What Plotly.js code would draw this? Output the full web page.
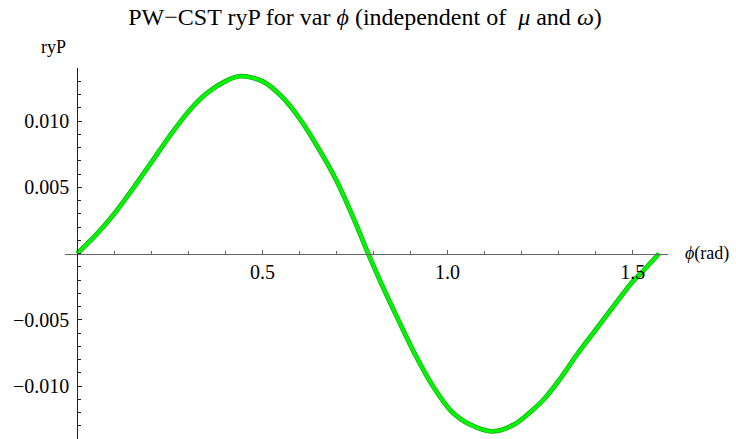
<!DOCTYPE html>
<html>
<head>
<meta charset="utf-8">
<script src="https://cdn.plot.ly/plotly-3.0.1.min.js"></script>
<style>
  html, body { margin: 0; padding: 0; background: #fff; }
  #chart { width: 736px; height: 439px; }
  #chart .xtick text, #chart .ytick text { font-family: "Liberation Serif", "Times New Roman", serif !important; }
</style>
</head>
<body>
<div id="chart"></div>
<script>
// Angle phi in radians, sampled along the curve
const phi = [
  0, 0.05, 0.10, 0.15, 0.20, 0.25, 0.30, 0.35, 0.40, 0.44, 0.50, 0.55, 0.60,
  0.65, 0.70, 0.75, 0.7854,
  0.82, 0.86, 0.91, 0.96, 1.01, 1.06, 1.12, 1.18, 1.23, 1.26, 1.30, 1.35,
  1.40, 1.45, 1.50, 1.525, 1.5708
];
// PW-CST ryP value at each angle
const ryP = [
  0, 0.00138, 0.00300, 0.00488, 0.00688, 0.00888, 0.01070, 0.01210, 0.01300,
  0.01338, 0.01300, 0.01190, 0.01020, 0.00800, 0.00550, 0.00240, 0,
  -0.00220, -0.00460, -0.00750, -0.01000, -0.01190, -0.01290, -0.01342,
  -0.01290, -0.01180, -0.01100, -0.00960, -0.00760, -0.00575, -0.00390,
  -0.00210, -0.00140, 0
];

const xTickVals = [0.5, 1.0, 1.5];
const xTickText = ['0.5', '1.0', '1.5'];
const yTickVals = [-0.010, -0.005, 0.005, 0.010];
const yTickText = ['\u22120.010', '\u22120.005', '0.005', '0.010'];

const xRange = [-0.033, 1.595];
const yRange = [-0.014, 0.014];

const serif = 'Liberation Serif, Times New Roman, serif';

// darker rim under a bright green core
const rim = {
  x: phi, y: ryP, type: 'scatter', mode: 'lines',
  line: { color: 'rgb(30,165,30)', width: 4.8, shape: 'spline', smoothing: 0.9 },
  hoverinfo: 'skip'
};
const core = {
  x: phi, y: ryP, type: 'scatter', mode: 'lines',
  line: { color: 'rgb(0,245,0)', width: 3.4, shape: 'spline', smoothing: 0.9 },
  hoverinfo: 'skip'
};

// tick labels wrapped so the serif face is applied on the text span itself
const serifSpan = s => '<span style="font-family:Liberation Serif, serif">' + s + '</span>';

const layout = {
  width: 736,
  height: 439,
  margin: { l: 65, r: 68, t: 68, b: 0 },
  paper_bgcolor: '#fff',
  plot_bgcolor: '#fff',
  showlegend: false,
  font: { family: serif, size: 20, color: '#000' },
  title: {
    text: 'PW\u2212CST ryP for var <i>\u03d5</i> (independent of  <i>\u03bc</i> and <i>\u03c9</i>)',
    font: { family: serif, size: 24, color: '#000' },
    x: 0.496, xref: 'container', xanchor: 'center',
    y: 0.962, yref: 'container', yanchor: 'middle'
  },
  xaxis: {
    range: xRange,
    anchor: 'free',
    position: (0 - yRange[0]) / (yRange[1] - yRange[0]),
    showgrid: false,
    zeroline: false,
    showline: true,
    linecolor: '#666',
    linewidth: 1,
    tickmode: 'array',
    tickvals: xTickVals,
    ticktext: xTickText.map(serifSpan),
    ticks: 'inside',
    ticklen: 4,
    tickwidth: 1,
    tickcolor: '#666',
    tickfont: { family: serif, size: 20, color: '#000' },
    minor: { tickmode: 'linear', tick0: 0, dtick: 0.1, ticks: 'inside', ticklen: 2.5, tickcolor: '#666', showgrid: false }
  },
  yaxis: {
    range: yRange,
    anchor: 'free',
    position: (0 - xRange[0]) / (xRange[1] - xRange[0]),
    showgrid: false,
    zeroline: false,
    showline: true,
    linecolor: '#222',
    linewidth: 1,
    tickmode: 'array',
    tickvals: yTickVals,
    ticktext: yTickText.map(serifSpan),
    ticks: 'inside',
    ticklen: 4,
    tickwidth: 1,
    tickcolor: '#222',
    ticklabelstandoff: 4,
    tickfont: { family: serif, size: 20, color: '#000' },
    minor: { tickmode: 'linear', tick0: 0, dtick: 0.001, ticks: 'inside', ticklen: 2.5, tickcolor: '#222', showgrid: false }
  },
  annotations: [
    {
      text: 'ryP', xref: 'paper', yref: 'paper',
      x: (53 - 65) / 603, y: (439 - 47) / 371,
      xanchor: 'center', yanchor: 'middle', showarrow: false,
      font: { family: serif, size: 18, color: '#000' }
    },
    {
      text: '<i>\u03d5</i>(rad)', xref: 'paper', yref: 'paper',
      x: (683 - 65) / 603, y: 0.5,
      xanchor: 'left', yanchor: 'middle', showarrow: false,
      font: { family: serif, size: 18, color: '#000' }
    }
  ]
};

Plotly.newPlot('chart', [rim, core], layout, { staticPlot: true, displayModeBar: false });
</script>
</body>
</html>
